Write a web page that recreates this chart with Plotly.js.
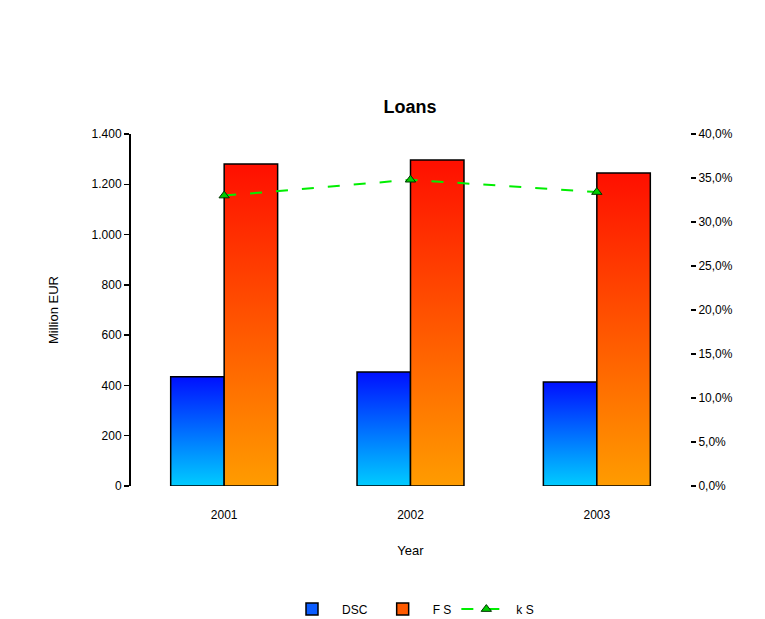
<!DOCTYPE html>
<html>
<head>
<meta charset="utf-8">
<script src="https://cdn.plot.ly/plotly-3.0.1.min.js"></script>
<style>
  html, body { margin: 0; padding: 0; background: #ffffff; }
  #chart { width: 765px; height: 619px; }
</style>
</head>
<body>
<div id="chart"></div>
<script>
// Loan volumes per year (million EUR) and the ratio between the two series (%)
const years = ['2001', '2002', '2003'];
const seriesNames = ['DSC', 'F S', 'k S'];
const dscLoans = [435, 453, 414];
const fsLoans = [1281, 1297, 1245];
const ratioPct = [33.0, 34.8, 33.4];

const font = 'Liberation Sans, Arial, sans-serif';

const traces = [
  {
    type: 'bar', name: seriesNames[0], x: years, y: dscLoans,
    marker: { color: '#0a5cff', line: { color: '#000000', width: 1.5 } }
  },
  {
    type: 'bar', name: seriesNames[1], x: years, y: fsLoans,
    marker: { color: '#ff5a00', line: { color: '#000000', width: 1.5 } }
  },
  {
    type: 'scatter', mode: 'lines+markers', name: seriesNames[2],
    x: years, y: ratioPct, yaxis: 'y2',
    line: { color: '#00ee00', width: 2, dash: '12px,14px' },
    marker: { symbol: 'triangle-up', size: 9, color: '#00cc00',
              line: { color: '#003300', width: 1 } }
  }
];

const layout = {
  width: 765, height: 619,
  margin: { l: 131, r: 75, t: 134, b: 133, autoexpand: false },
  paper_bgcolor: '#ffffff', plot_bgcolor: '#ffffff',
  separators: ',.',
  font: { family: font, size: 12, color: '#000000' },
  title: {
    text: '<b>Loans</b>', font: { family: font, size: 18, color: '#000000' },
    x: 0.536, xanchor: 'center', y: 0.827, yanchor: 'middle'
  },
  barmode: 'group', bargap: 0.426, bargroupgap: 0,
  xaxis: {
    type: 'category', showgrid: false, zeroline: false, showline: false,
    ticks: '', ticklabelstandoff: 20,
    tickfont: { family: font, size: 12, color: '#000000' },
    title: { text: 'Year', font: { family: font, size: 13, color: '#000000' }, standoff: 24 }
  },
  yaxis: {
    range: [0, 1400], dtick: 200, tickformat: ',d',
    showgrid: false, zeroline: false,
    showline: true, linecolor: '#000000', linewidth: 2,
    ticks: 'outside', ticklen: 5, tickwidth: 1.5, tickcolor: '#000000',
    tickfont: { family: font, size: 12, color: '#000000' },
    title: { text: 'Million EUR', font: { family: font, size: 13, color: '#000000' }, standoff: 30 }
  },
  yaxis2: {
    overlaying: 'y', side: 'right',
    range: [0, 40], dtick: 5, tickformat: ',.1f', ticksuffix: '%',
    showgrid: false, zeroline: false, showline: false,
    ticks: 'outside', ticklen: 5, tickwidth: 1.5, tickcolor: '#000000',
    tickfont: { family: font, size: 12, color: '#000000' }
  },
  showlegend: true,
  legend: {
    orientation: 'h', x: 0.5, xanchor: 'center',
    yref: 'container', y: 0.016, yanchor: 'middle',
    font: { family: font, size: 12, color: '#000000' },
    itemwidth: 50, bgcolor: 'rgba(0,0,0,0)'
  }
};

Plotly.newPlot('chart', traces, layout, { displayModeBar: false, staticPlot: true }).then(function (gd) {
  // Vertical colour gradients on the bar fills
  const svg = gd.querySelector('svg.main-svg');
  const ns = 'http://www.w3.org/2000/svg';
  const defs = document.createElementNS(ns, 'defs');
  function grad(id, top, bottom) {
    const g = document.createElementNS(ns, 'linearGradient');
    g.setAttribute('id', id);
    g.setAttribute('x1', '0'); g.setAttribute('y1', '0');
    g.setAttribute('x2', '0'); g.setAttribute('y2', '1');
    [[0, top], [1, bottom]].forEach(function (s) {
      const st = document.createElementNS(ns, 'stop');
      st.setAttribute('offset', String(s[0]));
      st.setAttribute('stop-color', s[1]);
      g.appendChild(st);
    });
    defs.appendChild(g);
  }
  grad('gradBlue', '#0010ff', '#00ccff');
  grad('gradOrange', '#ff0f00', '#ff9c00');
  svg.insertBefore(defs, svg.firstChild);
  const barTraces = gd.querySelectorAll('.barlayer .trace.bars');
  const ids = ['gradBlue', 'gradOrange'];
  barTraces.forEach(function (t, i) {
    t.querySelectorAll('.point path').forEach(function (p) {
      p.style.fill = 'url(#' + ids[i] + ')';
    });
  });
});
</script>
</body>
</html>
